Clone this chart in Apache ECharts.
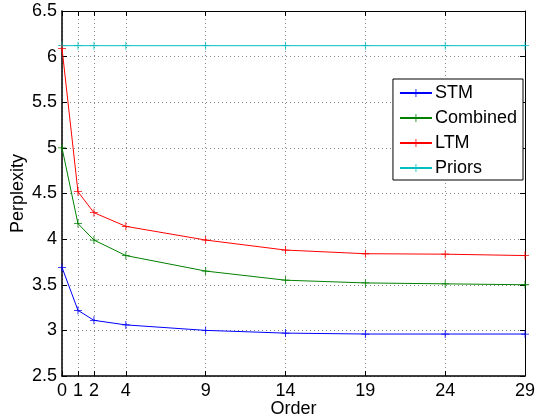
<!DOCTYPE html>
<html>
<head>
<meta charset="utf-8">
<script src="https://cdn.jsdelivr.net/npm/echarts@6/dist/echarts.min.js"></script>
<style>
  html, body { margin: 0; padding: 0; background: #fff; }
  #chart { width: 535px; height: 417px; }
</style>
</head>
<body>
<div id="chart"></div>
<script>
// x positions (model order) and tick labels
const orders = [0, 1, 2, 4, 9, 14, 19, 24, 29];
const yTicks = [2.5, 3, 3.5, 4, 4.5, 5, 5.5, 6, 6.5];

// perplexity values
const stm = [3.69, 3.22, 3.11, 3.06, 3.0, 2.97, 2.96, 2.96, 2.96];
const combined = [5.0, 4.17, 3.99, 3.82, 3.65, 3.55, 3.52, 3.51, 3.5];
const ltm = [6.09, 4.52, 4.29, 4.14, 3.99, 3.88, 3.84, 3.835, 3.82];
const priors = [6.12, 6.12, 6.12, 6.12, 6.12, 6.12, 6.12, 6.12, 6.12];

const names = ["STM", "Combined", "LTM", "Priors"];
const colors = ["#0000ff", "#008000", "#ff0000", "#00bfbf"];
const values = [stm, combined, ltm, priors];

const plus = "path://M0,4.5H10V5.5H0Z M4.5,0H5.5V10H4.5Z";
const font = "Liberation Sans, Arial, Helvetica, sans-serif";

const chart = echarts.init(document.getElementById("chart"));

const gridLine = {
  show: true,
  lineStyle: { color: "#888", type: [1, 3], width: 1 },
};

const option = {
  animation: false,
  textStyle: { fontFamily: font },
  grid: { left: 62, right: 10, top: 11, bottom: 41, containLabel: false, outerBoundsMode: "none" },
  legend: {
    orient: "vertical",
    right: 12,
    top: 79,
    data: names,
    itemWidth: 32,
    itemHeight: 10,
    itemGap: 7,
    padding: [5, 6, 3, 6],
    borderColor: "#000",
    borderWidth: 1,
    borderRadius: 0,
    backgroundColor: "#fff",
    textStyle: { fontSize: 18, color: "#000", fontFamily: font, padding: [0, 0, 0, -2] },
  },
  xAxis: [
    {
      type: "value",
      min: 0,
      max: 29,
      name: "Order",
      nameLocation: "middle",
      nameGap: 24,
      nameMoveOverlap: false,
      nameTextStyle: { fontSize: 18, color: "#000" },
      axisLine: { show: true, lineStyle: { color: "#000", width: 1.5 } },
      axisTick: { show: true, inside: true, length: 5, customValues: orders, lineStyle: { color: "#000" } },
      axisLabel: { customValues: orders, fontSize: 18, color: "#000", margin: 6 },
      splitLine: gridLine,
    },
    {
      type: "value",
      position: "top",
      min: 0,
      max: 29,
      axisLine: { show: true, onZero: false, lineStyle: { color: "#000", width: 1 } },
      axisTick: { show: true, inside: true, length: 5, customValues: orders, lineStyle: { color: "#000" } },
      axisLabel: { show: false, customValues: orders },
      splitLine: { show: false },
    },
  ],
  yAxis: [
    {
      type: "value",
      min: 2.5,
      max: 6.5,
      interval: 0.5,
      name: "Perplexity",
      nameLocation: "middle",
      nameGap: 35,
      nameMoveOverlap: false,
      nameTextStyle: { fontSize: 18, color: "#000" },
      axisLine: { show: true, lineStyle: { color: "#000", width: 1.5 } },
      axisTick: { show: true, inside: true, length: 5, lineStyle: { color: "#000" } },
      axisLabel: { fontSize: 18, color: "#000", margin: 5 },
      splitLine: gridLine,
    },
    {
      type: "value",
      position: "right",
      min: 2.5,
      max: 6.5,
      interval: 0.5,
      axisLine: { show: true, onZero: false, lineStyle: { color: "#000", width: 1 } },
      axisTick: { show: true, inside: true, length: 5, lineStyle: { color: "#000" } },
      axisLabel: { show: false },
      splitLine: { show: false },
    },
  ],
  series: names.map((name, i) => ({
    name: name,
    type: "line",
    data: orders.map((x, j) => [x, values[i][j]]),
    symbol: plus,
    symbolSize: 8,
    showSymbol: true,
    color: colors[i],
    lineStyle: { width: 1, color: colors[i] },
    itemStyle: { color: colors[i] },
    z: i === 3 ? 1 : 2,
  })),
};

chart.setOption(option);
</script>
</body>
</html>
